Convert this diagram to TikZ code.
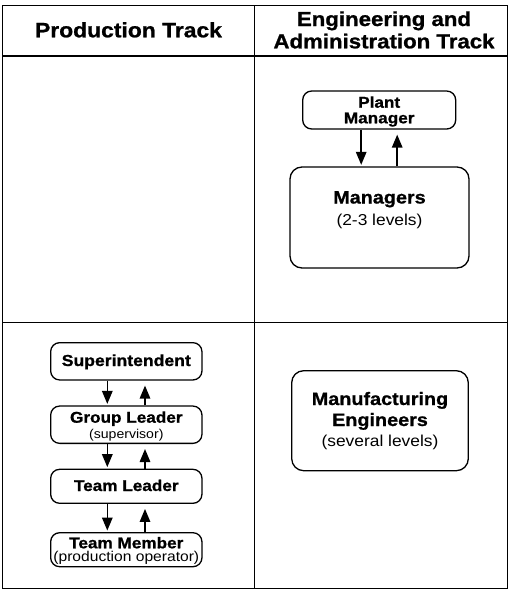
\documentclass[tikz,border=0pt]{standalone}
\usepackage{fontspec}
\setmainfont{Liberation Sans}[FakeStretch=1.1,BoldFeatures={FakeBold=1}]
\usetikzlibrary{arrows.meta}
\begin{document}
\begin{tikzpicture}[x=1pt,y=-1pt,
  grid/.style={line width=1.8pt},
  box/.style={draw,line width=1.3pt,rounded corners=9pt,inner sep=0pt},
  lbl/.style={anchor=base,inner sep=0pt},
  hdr/.style={lbl,font=\fontsize{20.8}{22}\selectfont\bfseries},
  bl/.style={lbl,font=\fontsize{15.6}{16}\selectfont\bfseries},
  big/.style={lbl,font=\fontsize{18}{19}\selectfont\bfseries},
  sub/.style={lbl,font=\fontsize{15.8}{16}\selectfont},
  arr/.style={line width=1.5pt,-{Triangle[length=13pt,width=10.5pt]}},
  ]
\useasboundingbox (0,0) rectangle (512,592);
% table
\draw[grid] (2.5,5.5) rectangle (507.5,588.5);
\draw[grid] (2.5,56) -- (507.5,56);
\draw[grid] (2.5,322.5) -- (507.5,322.5);
\draw[grid] (254.5,5.5) -- (254.5,588.5);
% headers
\node[hdr] (h1) at (128.5,37.3) {Production Track};
\node[hdr,font=\fontsize{20.2}{22}\selectfont\bfseries] (h2a) at (384,26) {Engineering and};
\node[hdr,font=\fontsize{20.2}{22}\selectfont\bfseries] (h2b) at (384,48.3) {Administration Track};
% right top
\node[box,minimum width=153pt,minimum height=38pt] (pm) at (379.2,110) {};
\node[bl] (pmt1) at (379.2,107.7) {Plant};
\node[bl] (pmt2) at (379.2,123.3) {Manager};
\node[box,rounded corners=12pt,minimum width=179pt,minimum height=101pt] (mgr) at (379.5,217.5) {};
\node[big] (mgrt1) at (379.5,203.5) {Managers};
\node[sub] (mgrt2) at (379.5,225.5) {(2-3 levels)};
\draw[arr,shorten >=1.5pt] ([xshift=-18pt]pm.south) -- ([xshift=-18pt]pm.south |- mgr.north);
\draw[arr,shorten >=5pt] ([xshift=18pt]pm.south |- mgr.north) -- ([xshift=18pt]pm.south);
% right bottom
\node[box,rounded corners=12pt,minimum width=176.6pt,minimum height=100pt] (mfg) at (380,420.7) {};
\node[big] (mfgt1) at (380,405) {Manufacturing};
\node[big] (mfgt2) at (380,426) {Engineers};
\node[sub] (mfgt3) at (380,446.7) {(several levels)};
% left bottom
\node[box,minimum width=151.3pt,minimum height=37.3pt] (sup) at (126.3,361.3) {};
\node[bl,font=\fontsize{16}{17}\selectfont\bfseries] (supt) at (126.3,366) {Superintendent};
\node[box,minimum width=151.3pt,minimum height=37.3pt] (gl) at (126.3,424.7) {};
\node[bl] (glt1) at (126.3,422.7) {Group Leader};
\node[lbl,font=\fontsize{12.8}{13}\selectfont] (glt2) at (126.3,438) {(supervisor)};
\node[box,minimum width=151.3pt,minimum height=34pt] (tl) at (126.3,486.3) {};
\node[bl] (tlt) at (126.3,491) {Team Leader};
\node[box,minimum width=151.3pt,minimum height=34pt] (tm) at (126.3,549.7) {};
\node[bl] (tmt1) at (126.3,548.3) {Team Member};
\node[lbl,font=\fontsize{14.2}{15}\selectfont] (tmt2) at (126.3,561.7) {(production operator)};
\foreach \a/\b in {sup/gl,gl/tl,tl/tm}{
  \draw[arr,shorten >=1.5pt] ([xshift=-19pt]\a.south) -- ([xshift=-19pt]\a.south |- \b.north);
  \draw[arr,shorten >=5pt] ([xshift=18.7pt]\a.south |- \b.north) -- ([xshift=18.7pt]\a.south);
}
\end{tikzpicture}
\end{document}
